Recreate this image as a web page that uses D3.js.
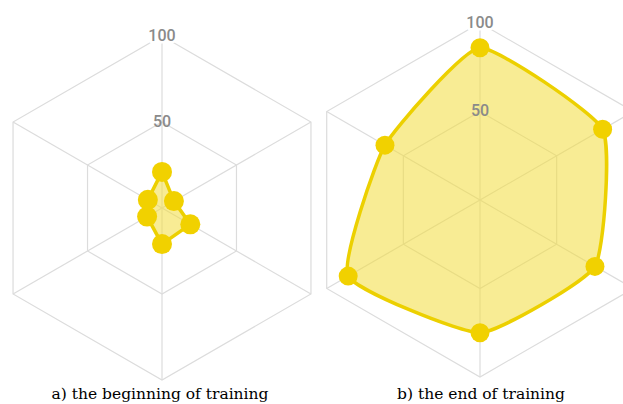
<!DOCTYPE html>
<html>
<head>
<meta charset="utf-8">
<script src="https://cdn.jsdelivr.net/npm/d3@7"></script>
<style>
  body { margin: 0; background: #fff; }
  svg { display: block; }
</style>
</head>
<body>
<script>
// axes go clockwise from the top
var axes = ["A1", "A2", "A3", "A4", "A5", "A6"];
var beginValues = [21, 8, 19, 21, 10, 9.5];
var endValues = [86, 80, 75, 75, 86, 62];
var gridLevels = [50, 100];
var captions = ["a) the beginning of training", "b) the end of training"];

var width = 623, height = 404;

var svg = d3.select("body").append("svg")
    .attr("width", width)
    .attr("height", height);

// draws one radar chart
function radar(values, cx, cy, radius, dotR, curve, caption, capX) {
  var g = svg.append("g").attr("transform", "translate(" + cx + "," + cy + ")");

  var r = d3.scaleLinear().domain([0, 100]).range([0, radius]);
  var angle = d3.scalePoint().domain(axes.concat(["end"])).range([0, 2 * Math.PI]);

  function pt(a, v) {
    var t = angle(a) - Math.PI / 2;
    return [r(v) * Math.cos(t), r(v) * Math.sin(t)];
  }

  // hexagon grid
  gridLevels.forEach(function(lv) {
    g.append("path")
      .attr("d", d3.line().curve(d3.curveLinearClosed)(axes.map(function(a) { return pt(a, lv); })))
      .attr("fill", "none")
      .attr("stroke", "#dcdcdc")
      .attr("stroke-width", 1.2);
  });

  // spokes
  g.selectAll(".spoke")
    .data(axes)
    .enter().append("line")
      .attr("class", "spoke")
      .attr("x1", 0).attr("y1", 0)
      .attr("x2", function(a) { return pt(a, 100)[0]; })
      .attr("y2", function(a) { return pt(a, 100)[1]; })
      .attr("stroke", "#dcdcdc")
      .attr("stroke-width", 1.2);

  // area
  var pts = axes.map(function(a, i) { return pt(a, values[i]); });
  g.append("path")
    .attr("d", d3.line().curve(curve)(pts))
    .attr("fill", "#f3dc3c")
    .attr("fill-opacity", 0.55)
    .attr("stroke", "#ecd000")
    .attr("stroke-width", 3.5)
    .attr("stroke-linejoin", "round");

  // level labels
  gridLevels.forEach(function(lv) {
    var p = pt(axes[0], lv);
    g.append("text")
      .attr("x", p[0])
      .attr("y", p[1] - 1)
      .attr("dy", "0.35em")
      .attr("text-anchor", "middle")
      .attr("font-family", "Roboto, 'Liberation Sans', sans-serif")
      .attr("font-size", 16)
      .attr("font-weight", 500)
      .attr("fill", "#8a8a8a")
      .attr("paint-order", "stroke")
      .attr("stroke", lv === 100 ? "#fff" : "none")
      .attr("stroke-width", 5)
      .text(lv);
  });

  // dots
  g.selectAll(".dot")
    .data(pts)
    .enter().append("circle")
      .attr("class", "dot")
      .attr("cx", function(d) { return d[0]; })
      .attr("cy", function(d) { return d[1]; })
      .attr("r", dotR)
      .attr("fill", "#f1d100");

  svg.append("text")
    .attr("x", capX)
    .attr("y", 399)
    .attr("text-anchor", "middle")
    .attr("font-family", "'DejaVu Serif', serif")
    .attr("font-size", 15.5)
    .attr("fill", "#000")
    .text(caption);
}

radar(beginValues, 162, 208, 172, 10, d3.curveLinearClosed, captions[0], 160);
radar(endValues, 480, 200, 177, 9.5, d3.curveCardinalClosed.tension(0.55), captions[1], 481);
</script>
</body>
</html>
